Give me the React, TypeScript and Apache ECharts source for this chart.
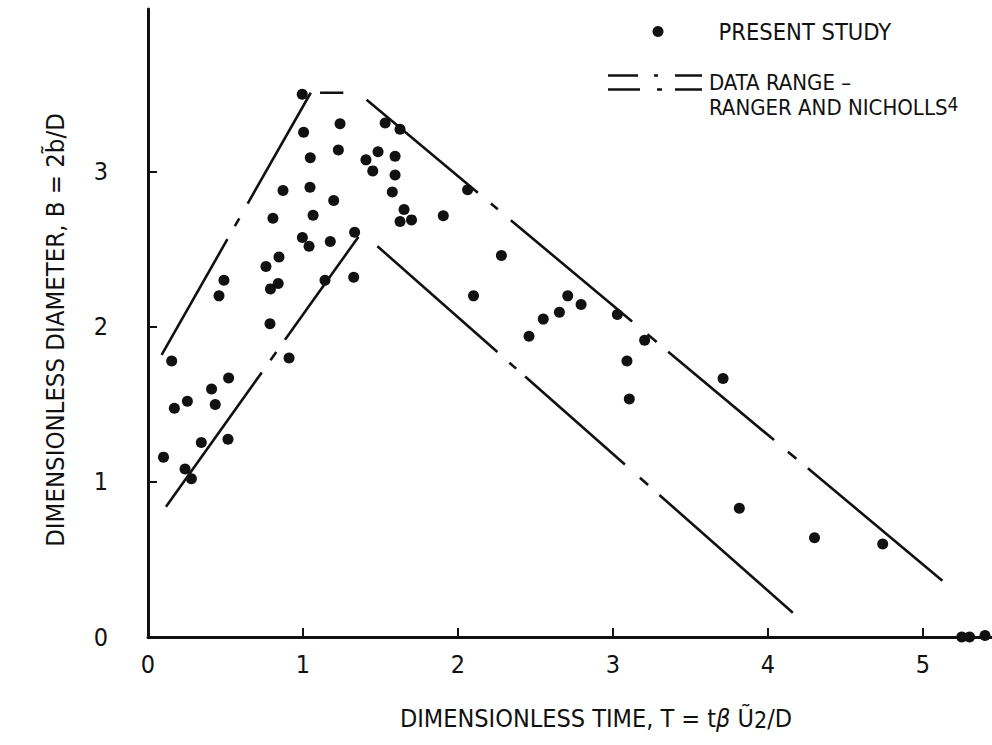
import React, { useEffect, useRef } from "react";
import * as echarts from "echarts";

// ---- data ----
const presentStudy: [number, number][] = [
  [0.10, 1.16], [0.153, 1.78], [0.17, 1.475], [0.254, 1.52], [0.239, 1.084],
  [0.28, 1.02], [0.344, 1.254], [0.41, 1.60], [0.434, 1.50], [0.458, 2.20],
  [0.49, 2.30], [0.52, 1.67], [0.516, 1.275],
  [0.787, 2.02], [0.761, 2.39], [0.79, 2.245], [0.84, 2.28], [0.806, 2.70],
  [0.845, 2.45], [0.871, 2.88], [0.91, 1.80], [0.995, 3.50], [1.004, 3.255],
  [1.047, 3.09], [1.045, 2.90], [1.065, 2.72], [0.996, 2.577], [1.039, 2.52],
  [1.142, 2.30], [1.176, 2.55], [1.198, 2.815], [1.228, 3.14], [1.239, 3.31],
  [1.327, 2.32], [1.333, 2.61],
  [1.406, 3.077], [1.45, 3.006], [1.484, 3.13], [1.53, 3.315], [1.576, 2.87],
  [1.594, 2.98], [1.594, 3.10], [1.626, 3.275], [1.652, 2.757], [1.626, 2.68],
  [1.70, 2.69], [1.905, 2.716], [2.062, 2.884], [2.10, 2.20], [2.28, 2.46],
  [2.458, 1.94], [2.55, 2.05], [2.654, 2.095], [2.708, 2.20], [2.794, 2.145],
  [3.028, 2.08], [3.09, 1.78], [3.105, 1.535], [3.204, 1.914], [3.71, 1.667],
  [3.815, 0.83], [4.30, 0.64], [4.74, 0.60],
  [5.25, 0.0], [5.30, 0.0], [5.40, 0.01],
];

// Ranger and Nicholls data-range envelope
const upperRise: [number, number][] = [[0.088, 1.82], [1.05, 3.51]];
const upperFlat: [number, number][] = [[1.11, 3.51], [1.26, 3.51]];
const upperFall: [number, number][] = [[1.41, 3.465], [5.125, 0.363]];
const lowerRise: [number, number][] = [[0.116, 0.84], [1.357, 2.58]];
const lowerFall: [number, number][] = [[1.48, 2.52], [4.16, 0.157]];

const xTickValues = [0, 1, 2, 3, 4, 5];
const yTickValues = [0, 1, 2, 3];

const SERIES_STUDY = "PRESENT STUDY";
const SERIES_RANGE = "DATA RANGE – RANGER AND NICHOLLS⁴";

const INK = "#111111";
const FONT = '"DejaVu Sans Condensed", "DejaVu Sans", sans-serif';
const NUM_FONT = '"Liberation Sans Narrow", "DejaVu Sans Condensed", sans-serif';

const LEGEND_RANGE_ICON =
  "path://M0 0H30V2.5H0Z M46 0H50V2.5H46Z M67 0H94V2.5H67Z M0 14H32V16.5H0Z M49 14H54V16.5H49Z M67 14H94V16.5H67Z";

function envelope(data: [number, number][], dash: number[]) {
  return {
    name: SERIES_RANGE,
    type: "line",
    data,
    symbol: "none",
    color: INK,
    itemStyle: { color: INK },
    lineStyle: { color: INK, width: 2.6, type: dash },
    z: 2,
  };
}

export default function App() {
  const ref = useRef<HTMLDivElement>(null);

  useEffect(() => {
    if (!ref.current) return;
    const chart = echarts.init(ref.current, undefined, { renderer: "svg" });
    chart.setOption({
      animation: false,
      backgroundColor: "#ffffff",
      grid: { left: 148, right: 0, top: 9, bottom: 108 },
      xAxis: {
        type: "value",
        min: 0,
        max: 5.445,
        interval: 1,
        name: "{a|DIMENSIONLESS TIME, T = t}{b|β }{a|Ũ}{sub|2}{a|/D}",
        nameLocation: "middle",
        nameGap: 69,
        nameTextStyle: {
          padding: [0, 0, 0, 52],
          rich: {
            a: { fontFamily: FONT, fontSize: 25, lineHeight: 25, color: INK },
            b: { fontFamily: FONT, fontSize: 25, lineHeight: 25, color: INK, fontStyle: "italic", fontWeight: "lighter" },
            sub: { fontFamily: FONT, fontSize: 23, lineHeight: 5, verticalAlign: "bottom", color: INK },
          },
        },
        axisLine: { lineStyle: { color: INK, width: 3 } },
        axisTick: { inside: true, length: 9, lineStyle: { color: INK, width: 2 }, customValues: [1, 2, 3, 4, 5] },
        axisLabel: {
          customValues: xTickValues,
          margin: 15,
          fontFamily: NUM_FONT,
          fontSize: 25,
          color: INK,
        },
        splitLine: { show: false },
      },
      yAxis: {
        type: "value",
        min: 0,
        max: 4.05,
        interval: 1,
        name: "DIMENSIONLESS DIAMETER, B = 2b̃/D",
        nameLocation: "middle",
        nameRotate: 90,
        nameGap: 80,
        nameTextStyle: {
          fontFamily: FONT,
          fontSize: 25.5,
          color: INK,
          padding: [0, 14, 0, 0],
        },
        axisLine: { lineStyle: { color: INK, width: 3 } },
        axisTick: { inside: true, length: 9, lineStyle: { color: INK, width: 2 }, customValues: [1, 2, 3] },
        axisLabel: {
          customValues: yTickValues,
          margin: 40,
          fontFamily: NUM_FONT,
          fontSize: 25,
          color: INK,
        },
        splitLine: { show: false },
      },
      legend: [
        {
          data: [{ name: SERIES_STUDY, icon: "circle" }],
          left: 652.5,
          top: 19.5,
          padding: 0,
          itemWidth: 11,
          itemHeight: 11,
          selectedMode: false,
          itemStyle: { opacity: 1 },
          textStyle: { fontFamily: FONT, fontSize: 23.5, color: INK, padding: [0, 0, 0, 50] },
        },
        {
          data: [{ name: SERIES_RANGE, icon: LEGEND_RANGE_ICON }],
          left: 608,
          top: 71,
          padding: 0,
          itemWidth: 94,
          itemHeight: 16.5,
          selectedMode: false,
          itemStyle: { color: INK, borderWidth: 0 },
          formatter: () => "{a|DATA RANGE –}\n{a|RANGER AND NICHOLLS}{sup|4}",
          textStyle: {
            color: INK,
            padding: [24, 0, 0, 2],
            rich: {
              a: { fontFamily: FONT, fontSize: 22, lineHeight: 25, color: INK },
              sup: { fontFamily: FONT, fontSize: 19, lineHeight: 10, verticalAlign: "top", color: INK },
            },
          },
        },
      ],
      series: [
        envelope(upperRise, [133, 15, 9, 17, 400]),
        envelope(upperFlat, [400, 10]),
        envelope(upperFall, [145, 17, 9, 17, 158, 20, 12, 15, 138, 18, 11, 15, 300, 10]),
        envelope(lowerRise, [165, 15, 10, 15, 400]),
        envelope(lowerFall, [160, 16, 9, 12, 133, 20, 11, 15, 300, 10]),
        {
          name: SERIES_STUDY,
          type: "scatter",
          data: presentStudy,
          symbol: "circle",
          symbolSize: 11,
          itemStyle: { color: INK, opacity: 1 },
          z: 3,
        },
      ],
    });
    return () => chart.dispose();
  }, []);

  return (
    <div
      ref={ref}
      style={{ position: "fixed", left: 0, top: 0, width: 992, height: 745, background: "#fff" }}
    />
  );
}
